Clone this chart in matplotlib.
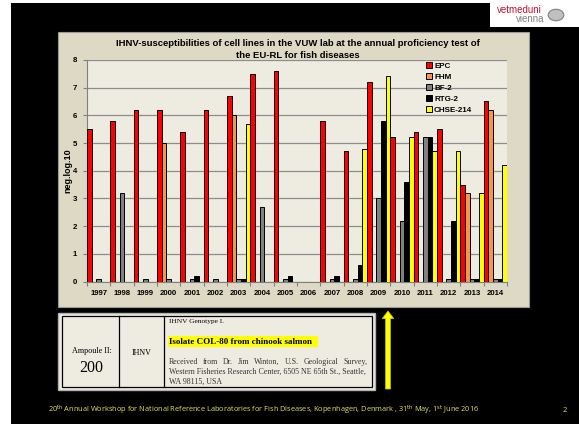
import numpy as np
import matplotlib
matplotlib.use("Agg")
import matplotlib.pyplot as plt
from matplotlib.patches import Rectangle, Circle, FancyArrow

nan = np.nan
years = [str(y) for y in range(1997, 2015)]
series_names = ["EPC", "FHM", "BF-2", "RTG-2", "CHSE-214"]
EPC = [5.5, 5.8, 6.2, 6.2, 5.4, 6.2, 6.7, 7.5, 7.6, nan, 5.8, 4.7, 7.2, 5.2, 5.4, 5.5, 3.5, 6.5]
FHM = [nan, nan, nan, 5.0, nan, nan, 6.0, nan, nan, nan, nan, nan, nan, nan, nan, nan, 3.2, 6.2]
BF2 = [0.1, 3.2, 0.1, 0.1, 0.1, 0.1, 0.1, 2.7, 0.1, nan, 0.1, 0.1, 3.0, 2.2, 5.2, 0.1, 0.1, 0.1]
RTG2 = [nan, nan, nan, nan, 0.2, nan, 0.1, nan, 0.2, nan, 0.2, 0.6, 5.8, 3.6, 5.2, 2.2, 0.1, 0.1]
CHSE = [nan, nan, nan, nan, nan, nan, 5.7, nan, nan, nan, nan, 4.8, 7.4, 5.2, 4.7, 4.7, 3.2, 4.2]
series = [EPC, FHM, BF2, RTG2, CHSE]
colors = ["#FF0000", "#F79646", "#808080", "#000000", "#FFFF00"]

W, H = 579, 424
fig = plt.figure(figsize=(W / 100, H / 100), dpi=100)
fig.patch.set_facecolor("white")
renderer = fig.canvas.get_renderer()

def fx(px):
    return px / W

def fy(py):
    return 1 - py / H

# black slide background
fig.add_artist(Rectangle((fx(11), 0), 1 - fx(11), fy(3), transform=fig.transFigure,
                         facecolor="black", edgecolor="none", zorder=0))
# logo white area
fig.add_artist(Rectangle((fx(490), fy(27)), 1 - fx(490), fy(0) - fy(27), transform=fig.transFigure,
                         facecolor="white", edgecolor="none", zorder=1))
fig.text(fx(497), fy(10), "vetmeduni", color="#C8102E", fontsize=7.0, family="Liberation Sans",
         va="center", ha="left", zorder=2)
fig.text(fx(544), fy(19.5), "vienna", color="#808080", fontsize=7.0, family="Liberation Sans",
         va="center", ha="right", zorder=2)
fig.add_artist(Circle((fx(556), fy(15)), 0.0135, transform=fig.transFigure,
                      facecolor="#C0C0C0", edgecolor="#808080", lw=0.8, zorder=2))

# chart area
fig.add_artist(Rectangle((fx(58), fy(307)), fx(529) - fx(58), fy(32) - fy(307),
                         transform=fig.transFigure, facecolor="#DDD9C4", edgecolor="#9A9A9A",
                         lw=0.8, zorder=1))

ax = fig.add_axes([fx(87), fy(281.7), fx(507) - fx(87), fy(59.8) - fy(281.7)])
ax.set_zorder(3)
ax.set_facecolor("#EEECE1")

n = len(years)
x = np.arange(n)
bw = 0.2
for i, (name, vals, c) in enumerate(zip(series_names, series, colors)):
    ax.bar(x - 0.5 + bw * (i + 0.5), vals, width=bw, color=c, edgecolor="black",
           linewidth=0.7, label=name, zorder=3)

ax.set_xlim(-0.5, n - 0.5)
ax.set_ylim(0, 8)
ax.set_yticks(range(0, 9))
ax.yaxis.grid(True, color="#8C8C8C", linewidth=0.9, zorder=0)
ax.set_axisbelow(True)
ax.set_xticks(x)
ax.set_xticklabels(years, fontsize=5.6, fontweight="bold", family="Liberation Sans")
ax.set_xticks(np.arange(-0.5, n, 1), minor=True)
ax.tick_params(axis="x", which="major", length=0, pad=6)
ax.tick_params(axis="x", which="minor", length=3, color="#808080", width=0.8)
ax.tick_params(axis="y", length=3, color="#808080", width=0.8, pad=4)
for lab in ax.get_yticklabels():
    lab.set_fontsize(5.6)
    lab.set_fontweight("bold")
    lab.set_family("Liberation Sans")
for s in ["top", "right"]:
    ax.spines[s].set_visible(False)
for s in ["left", "bottom"]:
    ax.spines[s].set_color("#808080")
    ax.spines[s].set_linewidth(0.8)

fig.text(fx(68), fy(171), "neg.log.10", rotation=90, ha="center", va="center",
         fontsize=6.5, fontweight="bold", family="Liberation Sans", zorder=4)

leg = ax.legend(loc="upper left", bbox_to_anchor=((426 - 87) / 420, (281.7 - 62) / 221.9),
                frameon=False,
                prop={"size": 5.8, "weight": "bold", "family": "Liberation Sans"},
                handlelength=0.7, handleheight=0.7, handletextpad=0.3, labelspacing=0.42,
                borderaxespad=0, borderpad=0)
leg.set_zorder(6)

fig.text(fx(298), fy(43), "IHNV-susceptibilities of cell lines in the VUW lab at the annual proficiency test of",
         ha="center", va="center", fontsize=6.8, fontweight="bold", family="Liberation Sans", zorder=4)
fig.text(fx(298), fy(55), "the EU-RL for fish diseases",
         ha="center", va="center", fontsize=6.8, fontweight="bold", family="Liberation Sans", zorder=4)

# table box
fig.add_artist(Rectangle((fx(58), fy(390)), fx(375) - fx(58), fy(313) - fy(390),
                         transform=fig.transFigure, facecolor="#EEECE1", edgecolor="#B0B0B0",
                         lw=1.0, zorder=1))
fig.add_artist(Rectangle((fx(62), fy(387)), fx(372) - fx(62), fy(316) - fy(387),
                         transform=fig.transFigure, facecolor="none", edgecolor="black",
                         lw=0.9, zorder=2))
for xv in (119, 164.5):
    fig.add_artist(plt.Line2D([fx(xv), fx(xv)], [fy(316), fy(387)], transform=fig.transFigure,
                              color="black", lw=0.9, zorder=2))
serif = "Liberation Serif"
fig.text(fx(91.5), fy(351), "Ampoule II:", ha="center", va="center", fontsize=5.9, family=serif, zorder=3)
fig.text(fx(91), fy(368), "200", ha="center", va="center", fontsize=11.5, family=serif, zorder=3)
fig.text(fx(142), fy(353), "IHNV", ha="center", va="center", fontsize=5.8, family=serif, zorder=3)
fig.text(fx(169), fy(322), "IHNV Genotype I.", ha="left", va="center", fontsize=5.3, family=serif, zorder=3)
fig.add_artist(Rectangle((fx(168), fy(347)), fx(317.5) - fx(168), fy(336) - fy(347),
                         transform=fig.transFigure, facecolor="#FFFF00", edgecolor="none", zorder=2))
fig.text(fx(169), fy(342), "Isolate COL-80 from chinook salmon", ha="left", va="center",
         fontsize=6.5, fontweight="bold", family=serif, zorder=3)

# fit the long address line to the column width
line2 = "Western Fisheries Research Center, 6505 NE 65th St., Seattle,"
base = 6.0
t2 = fig.text(fx(169), fy(371.5), line2, ha="left", va="center", fontsize=base, family=serif,
              color="#333333", zorder=3)
w2 = t2.get_window_extent(renderer).width
size = base * 198.0 / w2
t2.set_fontsize(size)

# justified first line at the same size
line1 = "Received from Dr. Jim Winton, U.S. Geological Survey,"
words = line1.split()
tmp = fig.text(0, 0, line1, fontsize=size, family=serif)
full = tmp.get_window_extent(renderer).width
tmp.remove()
nowsp = fig.text(0, 0, "".join(words), fontsize=size, family=serif)
total_words = nowsp.get_window_extent(renderer).width
nowsp.remove()
natural_space = (full - total_words) / (len(words) - 1)
extra = (198.0 - full) / (len(words) - 1)
pos = 169.0
for w in words:
    tw = fig.text(fx(pos), fy(362), w, ha="left", va="center", fontsize=size, family=serif,
                  color="#333333", zorder=3)
    pos += tw.get_window_extent(renderer).width + natural_space + extra
fig.text(fx(169), fy(381.5), "WA 98115, USA", ha="left", va="center", fontsize=size, family=serif,
         color="#333333", zorder=3)

# yellow arrow
fig.add_artist(FancyArrow(fx(388), fy(389), 0, fy(311) - fy(389), width=0.0085,
                          head_width=0.02, head_length=0.018, length_includes_head=True,
                          transform=fig.transFigure, facecolor="#FFFF00", edgecolor="#C8C800",
                          lw=0.5, zorder=3))

# footer
fig.text(fx(263.5), fy(410),
         r"20$^{\mathrm{th}}$ Annual Workshop for National Reference Laboratories for Fish Diseases, Kopenhagen, Denmark , 31$^{\mathrm{th}}$ May, 1$^{\mathrm{st}}$ June 2016",
         ha="center", va="center", fontsize=5.3, color="#E6E05A", family="Open Sans", zorder=3)
fig.text(fx(565), fy(411), "2", ha="center", va="center", fontsize=5.5, color="#E6E05A",
         family="Open Sans", zorder=3)

fig.savefig("out.png", dpi=100, facecolor=fig.get_facecolor())
